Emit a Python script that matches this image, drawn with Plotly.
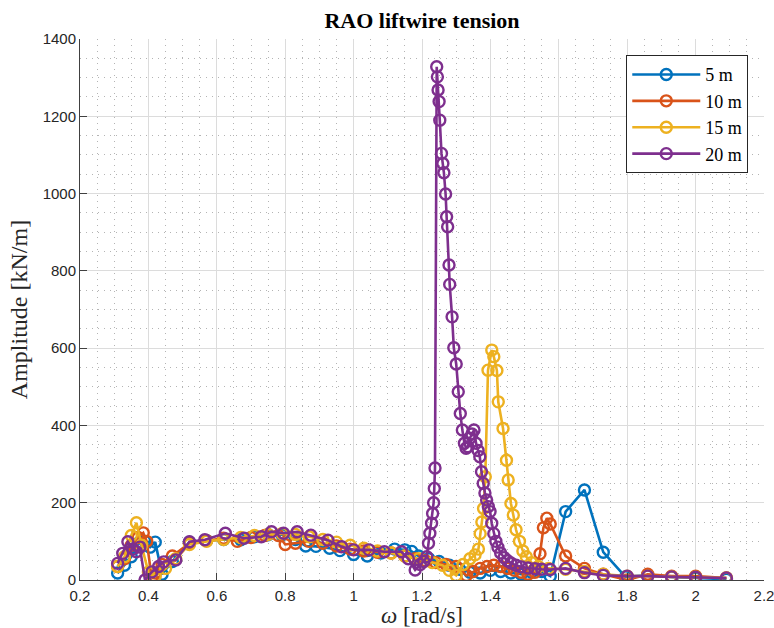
import plotly.graph_objects as go

# Frequencies [rad/s] and tension amplitudes [kN/m] per water depth
w_5 = [0.31, 0.33, 0.35, 0.37, 0.39, 0.405, 0.42, 0.44, 0.47, 0.52, 0.57, 0.62, 0.67, 0.71,
       0.75, 0.79, 0.83, 0.86, 0.89, 0.93, 0.96, 1.0, 1.04, 1.08, 1.12, 1.15, 1.17, 1.19,
       1.22, 1.25, 1.28, 1.31, 1.34, 1.37, 1.40, 1.43, 1.46, 1.49, 1.52, 1.55, 1.575,
       1.62, 1.675, 1.73, 1.795, 1.86, 1.93, 2.0, 2.09]
a_5 = [18, 38, 60, 95, 100, 85, 98, 15, 48, 98, 102, 105, 104, 112,
       117, 117, 105, 88, 87, 82, 76, 66, 62, 70, 80, 78, 74, 62,
       55, 48, 38, 28, 20, 18, 25, 22, 18, 15, 20, 22, 10,
       177, 233, 72, 8, 12, 8, 5, 2]

w_10 = [0.31, 0.33, 0.35, 0.37, 0.385, 0.395, 0.41, 0.42, 0.44, 0.47, 0.52, 0.57, 0.62,
        0.66, 0.7, 0.74, 0.78, 0.8, 0.83, 0.87, 0.91, 0.95, 0.99, 1.03, 1.07, 1.11, 1.15,
        1.18, 1.21, 1.24, 1.27, 1.3, 1.33, 1.35, 1.37, 1.39, 1.41, 1.43, 1.45, 1.47, 1.49,
        1.51, 1.53, 1.545, 1.555, 1.565, 1.575, 1.62, 1.675, 1.73, 1.8, 1.86, 1.93, 2.0, 2.09]
a_10 = [35, 55, 90, 110, 122, 100, 5, 18, 40, 62, 95, 102, 108,
        100, 110, 115, 115, 92, 95, 100, 95, 88, 80, 75, 72, 70, 62,
        55, 50, 45, 40, 35, 12, 22, 30, 35, 38, 35, 30, 25, 20,
        15, 20, 68, 135, 160, 145, 62, 30, 15, 0, 15, 10, 10, 5]

w_15 = [0.31, 0.33, 0.35, 0.365, 0.38, 0.40, 0.42, 0.45, 0.48, 0.52, 0.57, 0.62, 0.67,
        0.71, 0.75, 0.79, 0.83, 0.87, 0.91, 0.95, 0.99, 1.03, 1.07, 1.11, 1.15, 1.19,
        1.23, 1.26, 1.28, 1.30, 1.32, 1.34, 1.355, 1.365, 1.37, 1.375, 1.38, 1.385,
        1.393, 1.404, 1.41, 1.419, 1.423, 1.437, 1.447, 1.452, 1.46, 1.467, 1.475,
        1.485, 1.495, 1.505, 1.52, 1.54, 1.57, 1.62, 1.675, 1.73, 1.8, 1.86, 1.93, 2.0, 2.09]
a_15 = [35, 60, 115, 148, 90, 20, 10, 30, 55, 92, 100, 105, 110,
        115, 118, 120, 118, 112, 105, 98, 90, 82, 75, 70, 62, 55,
        45, 38, 25, 12, 40, 55, 65, 80, 120, 150, 185, 267,
        543, 595, 578, 542, 461, 392, 310, 259, 198, 168, 130,
        100, 75, 60, 45, 35, 30, 28, 22, 15, 10, 10, 8, 7, 5]

w_20 = [0.31, 0.325, 0.34, 0.355, 0.365, 0.375, 0.39, 0.41, 0.43, 0.445, 0.48, 0.52,
        0.565, 0.625, 0.68, 0.73, 0.76, 0.795, 0.835, 0.875, 0.925, 0.965, 1.0, 1.045,
        1.09, 1.14, 1.16, 1.18, 1.195, 1.205, 1.214, 1.219, 1.223, 1.228, 1.231, 1.234,
        1.236, 1.238, 1.243, 1.245, 1.247, 1.25, 1.252, 1.257, 1.261, 1.264, 1.269,
        1.272, 1.275, 1.279, 1.281, 1.288, 1.293, 1.3, 1.306, 1.312, 1.318, 1.324,
        1.329, 1.334, 1.34, 1.346, 1.352, 1.358, 1.364, 1.369, 1.374, 1.379, 1.384,
        1.389, 1.394, 1.399, 1.404, 1.41, 1.416, 1.422, 1.43, 1.44, 1.45, 1.46, 1.475,
        1.49, 1.51, 1.53, 1.55, 1.575, 1.62, 1.675, 1.73, 1.8, 1.86, 1.93, 2.0, 2.09]
a_20 = [43, 69, 99, 80, 73, 85, 0, 21, 35, 47, 52, 99,
        104, 121, 108, 112, 125, 121, 125, 116, 103, 86, 78, 78,
        73, 73, 55, 26, 40, 48, 60, 95, 121, 147, 172, 200,
        237, 290, 1328, 1302, 1268, 1238, 1190, 1104, 1078, 1054, 999,
        940, 914, 815, 765, 681, 601, 559, 487, 431, 388, 354,
        341, 345, 367, 378, 388, 354, 335, 319, 280, 250, 225,
        207, 190, 177, 147, 120, 100, 85, 70, 58, 50, 44, 38,
        34, 31, 29, 28, 27, 30, 19, 12, 10, 10, 8, 7, 5]

series = [
    ("5 m", w_5, a_5, "#0072BD"),
    ("10 m", w_10, a_10, "#D95319"),
    ("15 m", w_15, a_15, "#EDB120"),
    ("20 m", w_20, a_20, "#7E2F8E"),
]

fig = go.Figure()
for name, w, a, col in series:
    fig.add_trace(go.Scatter(
        x=w, y=a, name=name, mode="lines+markers",
        line=dict(color=col, width=2.6),
        marker=dict(symbol="circle-open", size=11, color=col, line=dict(width=2.4, color=col)),
    ))

serif = "Liberation Serif, Times New Roman, serif"
sans = "Liberation Sans, Arial, sans-serif"

axis_common = dict(
    showline=True, linecolor="#404040", linewidth=1,
    ticks="inside", ticklen=7, tickcolor="#404040",
    showgrid=True, gridcolor="#dcdcdc", gridwidth=1,
    zeroline=False, automargin=False, ticklabeloverflow="allow",
    tickfont=dict(family=sans, size=15, color="#262626"),
    mirror=False,
)
minor_grid = dict(showgrid=True, gridcolor="#b4b4b4", griddash="1px,5px", gridwidth=1)

fig.update_xaxes(
    range=[0.2, 2.2], dtick=0.2, tick0=0.2,
    minor=dict(dtick=0.05, **minor_grid),
    ticklabelstandoff=2,
    title=dict(text="<i>ω</i> [rad/s]", font=dict(family=serif, size=23, color="#262626"), standoff=9),
    **axis_common,
)
fig.update_yaxes(
    range=[0, 1400], dtick=200,
    minor=dict(dtick=50, **minor_grid),
    title=dict(text="Amplitude [kN/m]", font=dict(family=serif, size=24, color="#262626"), standoff=8),
    **axis_common,
)

fig.update_layout(
    width=774, height=628,
    margin=dict(l=80, r=10, t=39, b=48),
    paper_bgcolor="white", plot_bgcolor="white",
    title=dict(text="<b>RAO liftwire tension</b>", x=(80 + 764) / 2 / 774, xanchor="center",
               y=1 - 20 / 628, yanchor="middle",
               font=dict(family=serif, size=22, color="black")),
    legend=dict(
        x=0.977, y=0.970, xanchor="right", yanchor="top",
        bordercolor="#262626", borderwidth=1, bgcolor="white",
        font=dict(family=serif, size=18, color="black"),
        itemwidth=68, tracegroupgap=0,
    ),
    showlegend=True,
)

fig.write_html("out.html")
